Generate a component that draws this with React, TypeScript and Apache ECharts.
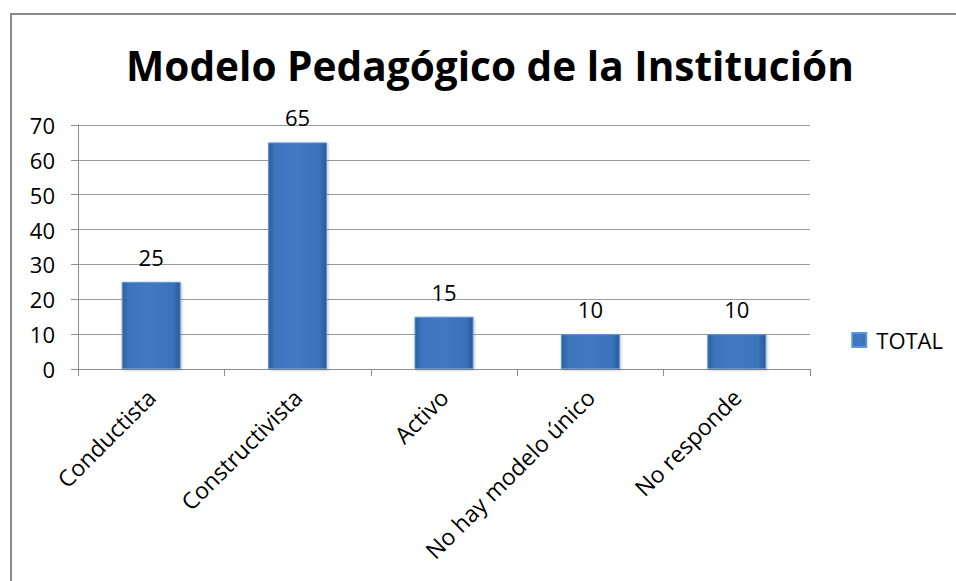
import React, { useEffect, useRef } from "react";
import * as echarts from "echarts";

const categories = ["Conductista", "Constructivista", "Activo", "No hay modelo único", "No responde"];
const totals = [25, 65, 15, 10, 10];
const seriesName = "TOTAL";
const titleText = "Modelo Pedagógico de la Institución";

export default function App() {
  const ref = useRef<HTMLDivElement>(null);
  useEffect(() => {
    document.body.style.margin = "0";
    const chart = echarts.init(ref.current!, null, { renderer: "svg" });
    const font = "'Open Sans', 'Noto Sans', sans-serif";
    chart.setOption({
      animation: false,
      backgroundColor: "#ffffff",
      textStyle: { fontFamily: font },
      title: {
        text: titleText,
        left: 121,
        top: 40,
        textStyle: { fontSize: 40.6, fontWeight: "bold", color: "#000", fontFamily: font },
      },
      legend: {
        data: [seriesName],
        right: 8,
        top: 324,
        orient: "vertical",
        icon: "rect",
        itemWidth: 14,
        itemHeight: 14,
        textStyle: { fontSize: 22, color: "#000", fontFamily: font, padding: [0, 0, 0, 5] },
      },
      graphic: [
        {
          type: "rect",
          shape: { x: 11, y: 14, width: 960, height: 600 },
          style: { fill: "none", stroke: "#8a8a8a", lineWidth: 2 },
          silent: true,
        },
      ],
      grid: { left: 78, right: 146, top: 125, bottom: 212, containLabel: false },
      xAxis: {
        type: "category",
        data: categories,
        axisLine: { show: true, lineStyle: { color: "#8c8c8c", width: 1 } },
        axisTick: { show: true, alignWithLabel: false, length: 7, lineStyle: { color: "#8c8c8c" } },
        axisLabel: { rotate: 45, fontSize: 23, color: "#000", margin: 24, interval: 0, fontFamily: font },
      },
      yAxis: {
        type: "value",
        min: 0,
        max: 70,
        interval: 10,
        axisLine: { show: true, lineStyle: { color: "#8c8c8c", width: 1 } },
        axisTick: { show: true, length: 7, lineStyle: { color: "#8c8c8c" } },
        axisLabel: { fontSize: 22, color: "#000", margin: 23, fontFamily: font },
        splitLine: { show: true, lineStyle: { color: "#9a9a9a", width: 1 } },
      },
      series: [
        {
          name: seriesName,
          type: "bar",
          data: totals,
          barWidth: 59,
          itemStyle: {
            color: new echarts.graphic.LinearGradient(0, 0, 1, 0, [
              { offset: 0, color: "#2d5f9e" },
              { offset: 0.12, color: "#3d75bd" },
              { offset: 0.5, color: "#4079c2" },
              { offset: 0.88, color: "#3a72b9" },
              { offset: 1, color: "#2a5894" },
            ]),
            borderColor: "#5b96dc",
            borderWidth: 1,
            shadowColor: "rgba(0,0,0,0.25)",
            shadowBlur: 3,
            shadowOffsetX: 1,
            shadowOffsetY: 1,
          },
          label: {
            show: true,
            position: "top",
            distance: 14,
            fontSize: 22,
            color: "#000",
            fontFamily: font,
          },
        },
      ],
    });
    return () => chart.dispose();
  }, []);
  return <div ref={ref} style={{ width: 956, height: 581 }} />;
}
